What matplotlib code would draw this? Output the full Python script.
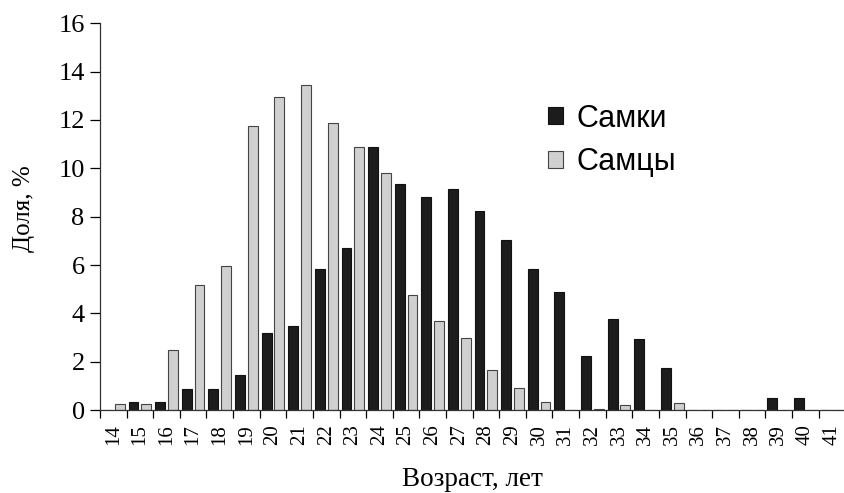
import numpy as np
import matplotlib
matplotlib.use("Agg")
import matplotlib.pyplot as plt

# age classes, years
ages = list(range(14, 42))
# share of fish by age, %
females = [0.0, 0.35, 0.35, 0.87, 0.87, 1.45, 3.2, 3.47, 5.85, 6.7,
           10.9, 9.35, 8.8, 9.15, 8.25, 7.05, 5.85, 4.88, 2.25, 3.78,
           2.95, 1.75, 0.0, 0.0, 0.0, 0.52, 0.52, 0.0]
males = [0.27, 0.27, 2.47, 5.18, 5.95, 11.75, 12.95, 13.45, 11.88, 10.9,
         9.8, 4.75, 3.7, 2.97, 1.68, 0.92, 0.32, 0.0, 0.06, 0.22,
         0.0, 0.3, 0.0, 0.0, 0.0, 0.0, 0.0, 0.0]

serif = "Liberation Serif"
sans = "Liberation Sans"

fig = plt.figure(figsize=(8.45, 4.93), dpi=100)
ax = fig.add_axes([0.1183, 0.168, 0.882, 0.785])

x = np.arange(len(ages))
w = 0.37
off = 0.24
ax.bar(x - off, females, w, color="#1c1c1c", edgecolor="#111111", lw=0.8, label="Самки")
ax.bar(x + off, males, w, color="#d0d0d0", edgecolor="#444444", lw=0.8, label="Самцы")

ax.set_xlim(-0.5, len(ages) - 0.5)
ax.set_ylim(0, 16)
ax.set_yticks(range(0, 17, 2))
ax.tick_params(axis="y", direction="out", length=7, width=0.9, labelsize=19, pad=4)
for t in ax.get_yticklabels():
    t.set_fontfamily(serif)

ax.set_xticks(x)
ax.set_xticklabels([str(a) for a in ages], rotation=90, fontsize=15, family=serif)
ax.tick_params(axis="x", which="major", length=0, pad=10)
ax.set_xticks(np.arange(-0.5, len(ages)), minor=True)
ax.tick_params(axis="x", which="minor", direction="out", length=6, width=0.9)

for s in ["top", "right"]:
    ax.spines[s].set_visible(False)
for s in ["left", "bottom"]:
    ax.spines[s].set_linewidth(0.9)
    ax.spines[s].set_color("#333333")

ax.set_xlabel("Возраст, лет", fontsize=19.5, family=serif, labelpad=16)
ax.set_ylabel("Доля, %", fontsize=18, family=serif)
ax.yaxis.set_label_coords(-0.087, 0.52)

ax.legend(loc="upper left", bbox_to_anchor=(0.631, 0.821), bbox_transform=fig.transFigure,
          frameon=False, prop={"family": sans, "size": 22}, borderpad=0,
          handlelength=0.46, handleheight=0.46, handletextpad=0.45, labelspacing=0.45)

fig.savefig("out.png", dpi=100)
